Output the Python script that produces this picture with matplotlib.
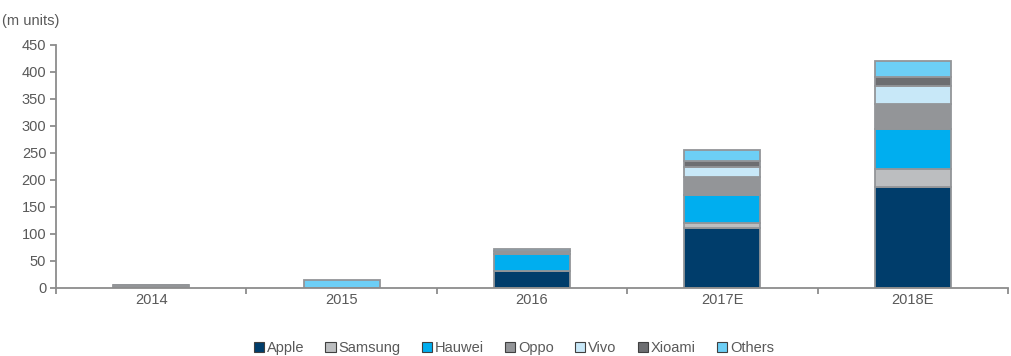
import matplotlib.pyplot as plt
import numpy as np

plt.rcParams['font.family'] = ['Liberation Sans', 'DejaVu Sans']

years = ['2014', '2015', '2016', '2017E', '2018E']
apple = [0, 0, 30, 110, 186]
samsung = [0, 0, 1, 9, 34]
hauwei = [0, 0, 31, 53, 74]
oppo = [4, 0, 6, 33, 47]
vivo = [0, 0, 0, 19, 33]
xioami = [0, 0, 0, 11, 16]
others = [0, 15, 4, 20, 31]

series = [('Apple', apple, '#003d6b'),
          ('Samsung', samsung, '#bcbec0'),
          ('Hauwei', hauwei, '#00aeef'),
          ('Oppo', oppo, '#939598'),
          ('Vivo', vivo, '#c8e8f8'),
          ('Xioami', xioami, '#6d6e71'),
          ('Others', others, '#6dcff6')]

txt = '#595959'
axc = '#8c8c8c'

fig = plt.figure(figsize=(10.11, 3.56), dpi=100)
ax = fig.add_axes([0.0554, 0.192, 0.9416, 0.682])

x = np.arange(len(years))
bottom = np.zeros(len(years))
for name, vals, col in series:
    vals = np.array(vals, dtype=float)
    ax.bar(x, vals, 0.4, bottom=bottom, color=col, edgecolor='#939598',
           linewidth=1.3, label=name)
    bottom += vals

ax.set_xlim(-0.5, len(years) - 0.5)
ax.set_ylim(0, 450)
ax.set_yticks(np.arange(0, 451, 50))
ax.set_xticks(x)
ax.set_xticklabels(years)
ax.set_xticks(np.arange(-0.5, len(years)), minor=True)
ax.tick_params(axis='x', which='major', length=0, pad=4, labelsize=10.5, labelcolor=txt)
ax.tick_params(axis='x', which='minor', length=4, width=1.3, color=axc)
ax.tick_params(axis='y', length=4, width=1.3, color=axc, labelsize=10.5, labelcolor=txt, pad=3)

for s in ['top', 'right']:
    ax.spines[s].set_visible(False)
for s in ['left', 'bottom']:
    ax.spines[s].set_color(axc)
    ax.spines[s].set_linewidth(1.3)

fig.text(0.002, 0.942, '(m units)', fontsize=10.5, color=txt, ha='left', va='center')

leg = ax.legend(loc='center', bbox_to_anchor=(0.481, -0.248), ncol=7, frameon=False,
                handlelength=0.7, handleheight=0.7, handletextpad=0.2,
                columnspacing=1.45, fontsize=10.5)
for t in leg.get_texts():
    t.set_color(txt)
for h in leg.legend_handles:
    h.set_edgecolor('#404040')
    h.set_linewidth(0.8)

plt.savefig('out.png', dpi=100)
